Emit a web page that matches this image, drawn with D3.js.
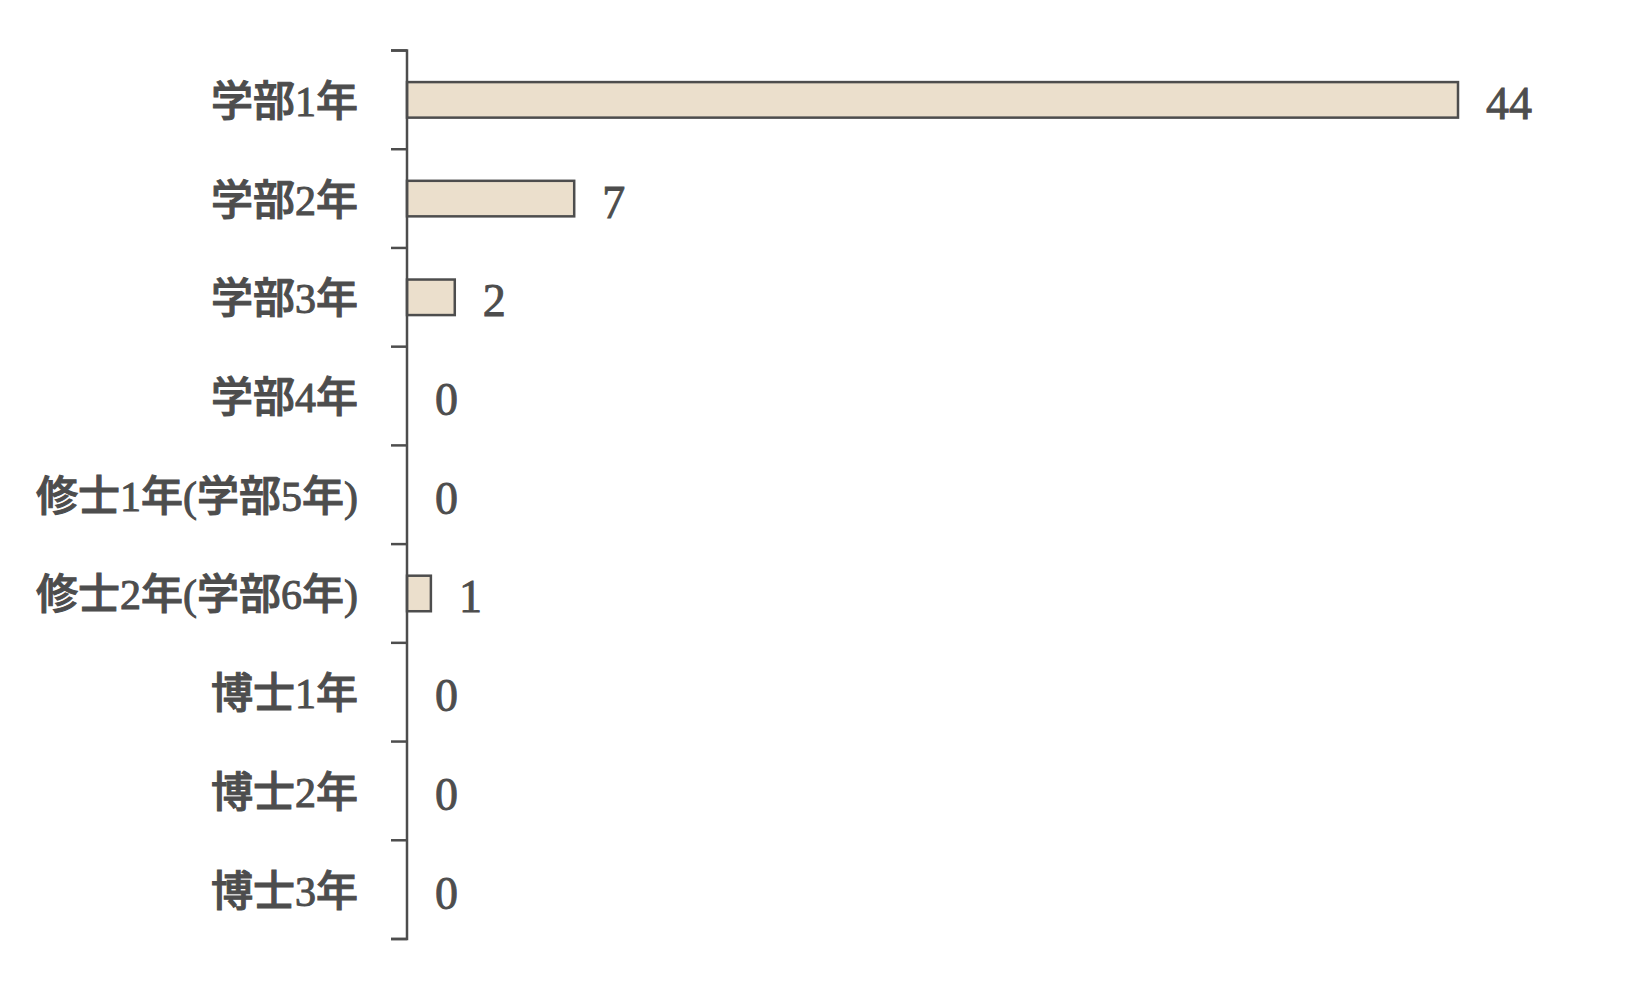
<!DOCTYPE html>
<html>
<head>
<meta charset="utf-8">
<script src="https://cdn.jsdelivr.net/npm/d3@7"></script>
<style>
  body { margin: 0; background: #fff; }
  text { font-family: "Liberation Serif", "Noto Sans CJK JP", serif; fill: #4d4d4d; }
</style>
</head>
<body>
<svg width="1650" height="990"></svg>
<script>
// data
var categories = ["学部1年", "学部2年", "学部3年", "学部4年", "修士1年(学部5年)", "修士2年(学部6年)", "博士1年", "博士2年", "博士3年"];
var counts = [44, 7, 2, 0, 0, 1, 0, 0, 0];

var svg = d3.select("svg");
var ink = "#4d4d4d";

var x = d3.scaleLinear().domain([0, 44]).range([407, 1458]);
var y = d3.scaleBand()
  .domain(categories)
  .range([50.5, 939])
  .paddingInner(0.64)
  .paddingOuter(0.32);

var data = categories.map(function(c, i) { return { label: c, value: counts[i] }; });

// bars
svg.append("g").selectAll("rect")
  .data(data)
  .enter()
  .append("rect")
  .attr("x", x(0))
  .attr("y", function(d) { return y(d.label); })
  .attr("width", function(d) { return x(d.value) - x(0); })
  .attr("height", y.bandwidth())
  .attr("fill", function(d) { return d.value > 0 ? "#ebdfcc" : "none"; })
  .attr("stroke", function(d) { return d.value > 0 ? ink : "none"; })
  .attr("stroke-width", 2.5);

// value labels
svg.append("g").selectAll("text")
  .data(data)
  .enter()
  .append("text")
  .attr("x", function(d) { return x(d.value) + 28; })
  .attr("y", function(d) { return y(d.label) + y.bandwidth() / 2 + 19; })
  .attr("font-size", 46)
  .attr("stroke", ink)
  .attr("stroke-width", 0.9)
  .text(function(d) { return d.value; });

// y axis: labels centred on bars, ticks on band boundaries
var axis = svg.append("g")
  .attr("transform", "translate(" + x(0) + ",0)")
  .call(d3.axisLeft(y).tickSize(0).tickPadding(49));
axis.select(".domain").remove();
axis.selectAll("text")
  .attr("font-size", 42)
  .attr("font-weight", 500)
  .attr("dy", "0.38em")
  .attr("fill", ink)
  .attr("stroke", ink)
  .attr("stroke-width", 1)
  .style("font-family", "\"Liberation Serif\", \"Noto Sans CJK JP\", serif");

var bounds = d3.range(categories.length + 1).map(function(i) { return y.range()[0] + i * y.step(); });
axis.append("path")
  .attr("d", "M-16," + bounds[0] + "H0V" + bounds[bounds.length - 1] + "H-16")
  .attr("fill", "none")
  .attr("stroke", ink)
  .attr("stroke-width", 2.5);
axis.selectAll(".bound")
  .data(bounds)
  .enter()
  .append("line")
  .attr("class", "bound")
  .attr("x1", -16)
  .attr("x2", 0)
  .attr("y1", function(d) { return d; })
  .attr("y2", function(d) { return d; })
  .attr("stroke", ink)
  .attr("stroke-width", 2.5);
</script>
</body>
</html>
